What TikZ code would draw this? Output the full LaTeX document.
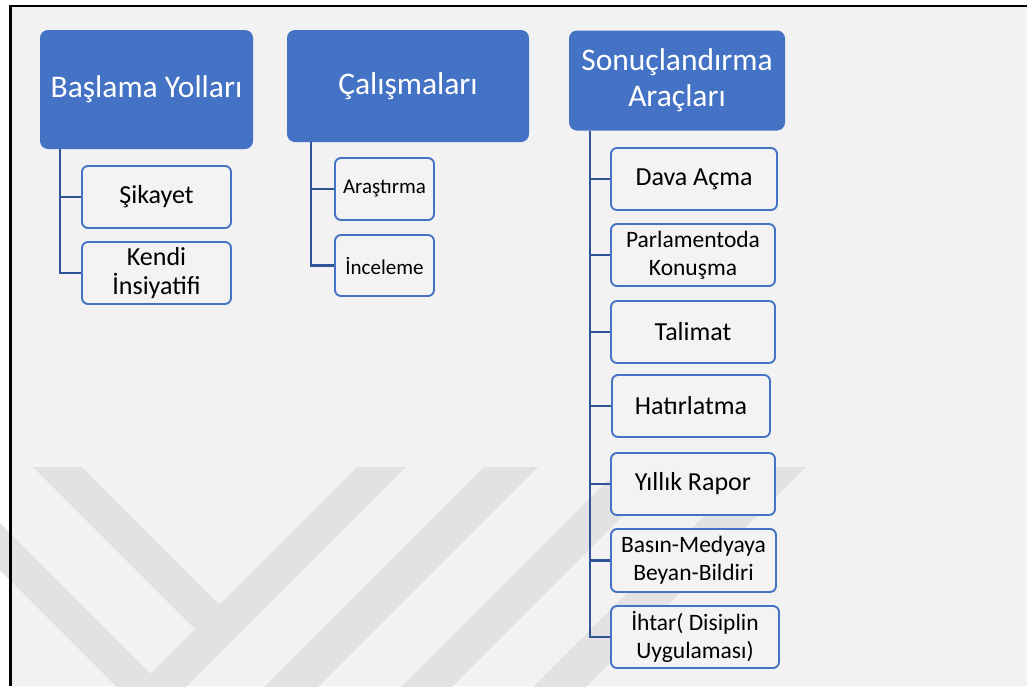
\documentclass[tikz,border=0pt]{standalone}
\usepackage{fontspec}
\setmainfont{Carlito}
\definecolor{accent}{HTML}{4472C4}
\definecolor{connc}{HTML}{2F5597}
\definecolor{pagebg}{HTML}{F2F2F2}
\definecolor{wmark}{HTML}{E2E2E2}
\definecolor{childfill}{HTML}{F3F3F3}
\tikzset{
  parentbox/.style={fill=accent, rounded corners=8pt, text=white, align=center, inner sep=2pt},
  childbox/.style={draw=accent, line width=1.9pt, fill=childfill, rounded corners=6pt, text=black, align=center, inner sep=2pt},
  conn/.style={draw=connc, line width=2.4pt},
  fbig/.style={font=\fontsize{31.5}{36}\selectfont},
  fmid/.style={font=\fontsize{26}{29.5}\selectfont},
  fsmall/.style={font=\fontsize{23.5}{28}\selectfont},
  ftiny/.style={font=\fontsize{21}{25}\selectfont},
}
\begin{document}
\begin{tikzpicture}[x=1pt,y=-1pt]
\useasboundingbox (0,0) rectangle (1027,686);
% page
\fill[white] (0,0) rectangle (1027,686);
\fill[pagebg] (10,6) rectangle (1027,686);
% watermark
\begin{scope}
\clip (0,0) rectangle (1027,686);
\fill[wmark] (357,467) -- (406,467) -- (173,700) -- (124,700) -- cycle;
\fill[wmark] (484,467) -- (538,467) -- (305,700) -- (251,700) -- cycle;
\fill[wmark] (621,467) -- (672,467) -- (439,700) -- (388,700) -- cycle;
\fill[wmark] (753,467) -- (806,467) -- (573,700) -- (520,700) -- cycle;
\fill[wmark] (33,467) -- (82,467) -- (219.5,604.5) -- (195,629) -- cycle;
\fill[wmark] (-50,473) -- (150.5,673.5) -- (127,697) -- (-50,520) -- cycle;
\end{scope}
% frame
\draw[black, line width=2.5pt] (10.3,686) -- (10.3,6.2) -- (1027,6.2);

% parents
\node[parentbox, fbig, minimum width=213pt, minimum height=119pt] (p1) at (146.5,89.5) {Başlama Yolları};
\node[parentbox, fbig, minimum width=242pt, minimum height=112pt] (p2) at (408,86) {Çalışmaları};
\node[parentbox, fbig, minimum width=216pt, minimum height=100pt] (p3) at (677,80.5) {Sonuçlandırma\\Araçları};

% children column 1
\node[childbox, fmid, minimum width=149pt, minimum height=62pt] (c11) at (156.5,197) {Şikayet};
\node[childbox, fmid, minimum width=149pt, minimum height=62pt] (c12) at (156.5,273) {Kendi\\İnsiyatifi};
% children column 2
\node[childbox, ftiny, minimum width=99pt, minimum height=62pt] (c21) at (384.5,189) {Araştırma};
\node[childbox, ftiny, minimum width=99pt, minimum height=61pt] (c22) at (384.5,265.5) {İnceleme};
% children column 3
\node[childbox, fmid, minimum width=166pt, minimum height=62pt] (c31) at (694,179) {Dava Açma};
\node[childbox, fsmall, minimum width=164pt, minimum height=62pt] (c32) at (693,255) {Parlamentoda\\Konuşma};
\node[childbox, fmid, minimum width=164pt, minimum height=62pt] (c33) at (693,332) {Talimat};
\node[childbox, fmid, minimum width=158pt, minimum height=62pt] (c34) at (691,406) {Hatırlatma};
\node[childbox, fmid, minimum width=164pt, minimum height=62pt] (c35) at (693,484) {Yıllık Rapor};
\node[childbox, fsmall, minimum width=165pt, minimum height=63pt] (c36) at (693.5,560.5) {Basın-Medyaya\\Beyan-Bildiri};
\node[childbox, fsmall, minimum width=168pt, minimum height=62pt] (c37) at (695,637) {İhtar( Disiplin\\Uygulaması)};

% trunk coordinates
\coordinate (t1) at ([xshift=20pt]p1.south west);
\coordinate (t2) at ([xshift=24pt]p2.south west);
\coordinate (t3) at ([xshift=21pt]p3.south west);

% connectors
\draw[conn] (t1) |- (c11.west);
\draw[conn] (t1) |- (c12.west);
\draw[conn] (t2) |- (c21.west);
\draw[conn] (t2) |- (c22.west);
\foreach \c in {c31,c32,c33,c34,c35,c36,c37}{
  \draw[conn] (t3) |- (\c.west);
}
\end{tikzpicture}
\end{document}
